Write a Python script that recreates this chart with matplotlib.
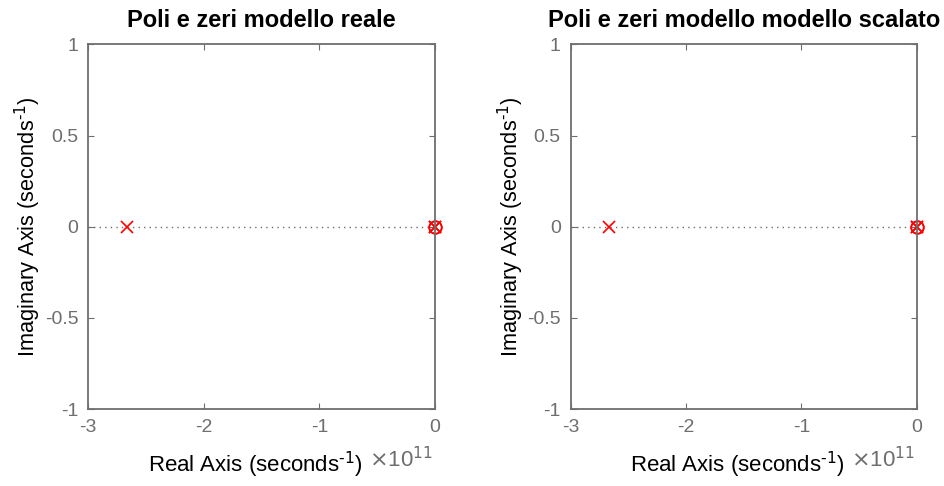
import numpy as np
import matplotlib.pyplot as plt

plt.rcParams['font.family'] = ['Liberation Sans', 'DejaVu Sans']

titles = ['Poli e zeri modello reale', 'Poli e zeri modello modello scalato']
poles_real = [-2.665e11, 0.0, 0.0]
zeros_real = [0.0, 0.0]
poles_scaled = [-2.667e11, 0.0, 0.0]
zeros_scaled = [0.0, 0.0]
xticks = [-3, -2, -1, 0]
yticks = [-1, -0.5, 0, 0.5, 1]
scale = 1e11

gray = '#6e6e6e'
fig = plt.figure(figsize=(9.45, 4.86), dpi=100)
W, H = 945, 486
boxes = [(88, 435), (570.5, 917)]
top, bot = 44.5, 409

for (x0, x1), title, poles, zeros in zip(boxes, titles,
                                          [poles_real, poles_scaled],
                                          [zeros_real, zeros_scaled]):
    ax = fig.add_axes([x0 / W, 1 - bot / H, (x1 - x0) / W, (bot - top) / H])
    ax.axhline(0, color=gray, ls=(0, (1, 3)), lw=1)
    p = np.array(poles) / scale
    z = np.array(zeros) / scale
    ax.plot(p, np.zeros_like(p), 'x', color='red', ms=9, mew=1.2, clip_on=False)
    ax.plot(z, np.zeros_like(z), 'o', color='red', mfc='none', ms=9, mew=1.2,
            clip_on=False)
    ax.set_xlim(-3, 0)
    ax.set_ylim(-1, 1)
    ax.set_xticks(xticks)
    ax.set_xticklabels([str(t) for t in xticks])
    ax.set_yticks(yticks)
    ax.set_yticklabels(['-1', '-0.5', '0', '0.5', '1'])
    ax.tick_params(direction='in', top=True, right=True, colors=gray,
                   labelsize=14, length=4, pad=7)
    for s in ax.spines.values():
        s.set_color(gray)
        s.set_linewidth(1.3)
    ax.set_title(title, fontsize=17, fontweight='bold', pad=12.5)
    ax.set_ylabel(r'Imaginary Axis (seconds$^{\text{-1}}$)', fontsize=15.7,
                  labelpad=1)
    ax.set_xlabel(r'Real Axis (seconds$^{\text{-1}}$)', fontsize=16,
                  labelpad=10, x=0.483)
    ax.text(0.995, -0.159, r'$\times$10$^{11}$', transform=ax.transAxes,
            color=gray, fontsize=16, ha='right', va='baseline')

fig.savefig('out.png', dpi=100, facecolor='white')
